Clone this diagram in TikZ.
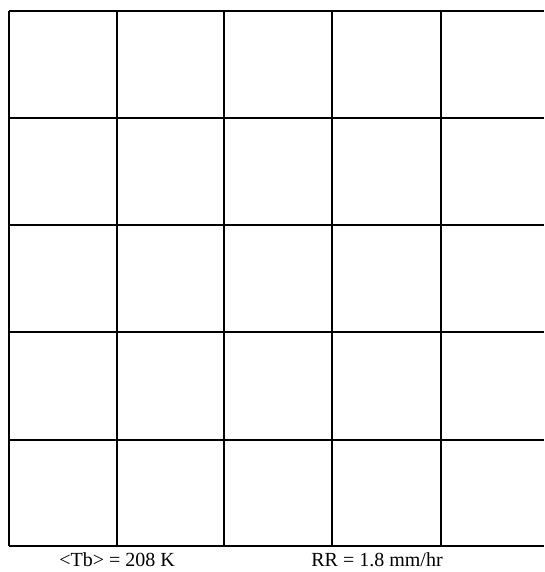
\documentclass[tikz,border=0pt]{standalone}
\usepackage{fontspec}
\setmainfont{Liberation Serif}
\tikzset{
  gridln/.style={black, line width=2pt},
  captxt/.style={font=\fontsize{20}{22}\selectfont, inner sep=0pt, anchor=base},
}
\begin{document}
\begin{tikzpicture}[x=1pt,y=-1pt]
  \useasboundingbox (0,0) rectangle (544,572);
  % grid: five columns, five rows, open on the right
  \foreach \xv in {9,117,224,332,441}
    \draw[gridln] (\xv,11) -- (\xv,546);
  \foreach \yh in {11,118,225,332,440,546}
    \draw[gridln] (9,\yh) -- (544,\yh);
  % captions under the grid
  \node[captxt] (tb) at (117,566) {<Tb> = 208 K};
  \node[captxt] (rr) at (377,566) {RR = 1.8 mm/hr};
\end{tikzpicture}
\end{document}
